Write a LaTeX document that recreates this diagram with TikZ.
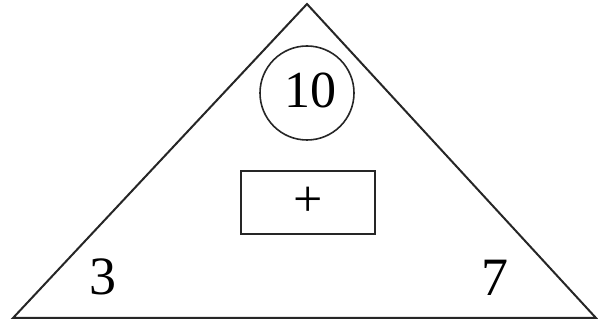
\documentclass[tikz,border=0pt]{standalone}
\usepackage{fontspec}
\setmainfont{Liberation Serif}
\begin{document}
\begin{tikzpicture}[x=1pt,y=-1pt,
  edge/.style={draw=black!85,line width=2pt,line join=miter},
  big/.style={font=\fontsize{54}{60}\selectfont,inner sep=0pt},
  numcircle/.style={draw=black!85,line width=1.6pt,circle,minimum size=94pt,inner sep=0pt},
  opbox/.style={draw=black!85,line width=2.2pt,minimum width=134pt,minimum height=63pt,inner sep=0pt}]
\useasboundingbox (0,0) rectangle (598,326);
\coordinate (top) at (307,4);
\coordinate (bl) at (13,318);
\coordinate (br) at (596,318);
\draw[edge] (top) -- (bl) -- (br) -- cycle;
\node[numcircle] (sum) at (307,93) {};
\node[inner sep=0pt,font=\fontsize{52}{60}\selectfont] (ten) at (310,90) {10};
\node[opbox] (op) at (308,202.5) {};
\node[inner sep=0pt,font=\fontsize{52}{60}\selectfont] (plus) at (308,202) {+};
\node[big] (three) at (103,277) {3};
\node[big] (seven) at (495,278) {7};
\end{tikzpicture}
\end{document}
